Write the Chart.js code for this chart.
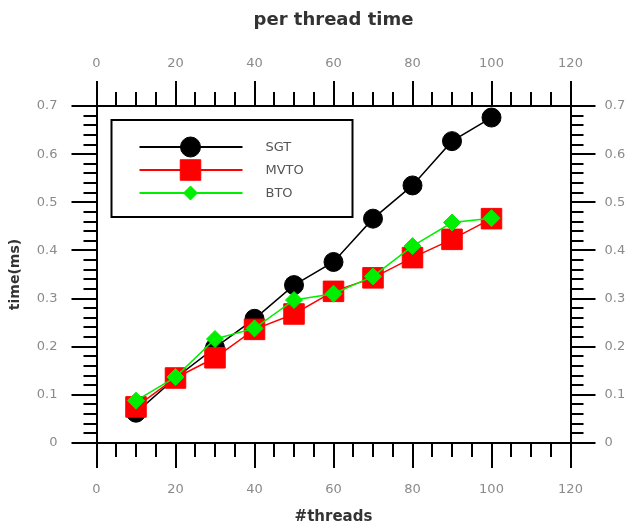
<!DOCTYPE html>
<html>
<head>
<meta charset="utf-8">
<script src="https://cdn.jsdelivr.net/npm/chart.js@4/dist/chart.umd.min.js"></script>
<style>
body { margin: 0; background: #fff; }
#wrap { width: 630px; height: 529px; }
</style>
</head>
<body>
<div id="wrap"><canvas id="myChart"></canvas></div>
<script>
// data
var threads = [10, 20, 30, 40, 50, 60, 70, 80, 90, 100];
var sgt  = [0.063, 0.135, 0.198, 0.258, 0.328, 0.376, 0.466, 0.535, 0.627, 0.676];
var mvto = [0.075, 0.135, 0.177, 0.236, 0.268, 0.315, 0.343, 0.385, 0.423, 0.466];
var bto  = [0.088, 0.137, 0.216, 0.238, 0.297, 0.310, 0.346, 0.409, 0.458, 0.467];
var xTicks = [0, 20, 40, 60, 80, 100, 120];
var yTicks = [0, 0.1, 0.2, 0.3, 0.4, 0.5, 0.6, 0.7];
var yTickLabels = ['0', '0.1', '0.2', '0.3', '0.4', '0.5', '0.6', '0.7'];

function points(xs, ys) {
    var out = [];
    for (var i = 0; i < xs.length; i++) {
        out.push({x: xs[i], y: ys[i]});
    }
    return out;
}

var tickFont = {family: 'DejaVu Sans', size: 13};
var tickColor = '#8a8a8a';

// major ticks only come from the arrays above
function setTicks(list) {
    return function(scale) {
        scale.ticks = list.map(function(v) { return {value: v}; });
    };
}

function axisOpts(pos, list, pad, extra) {
    var o = {
        type: 'linear',
        position: pos,
        min: list[0],
        max: list[list.length - 1],
        afterBuildTicks: setTicks(list),
        ticks: {color: tickColor, font: tickFont, padding: pad, maxRotation: 0, autoSkip: false},
        grid: {drawOnChartArea: false, drawTicks: true, tickLength: 25, color: '#000', lineWidth: 2},
        border: {display: true, color: '#000', width: 2}
    };
    for (var k in extra) o[k] = extra[k];
    return o;
}

// minor tick marks + legend box drawn with the chart's own scales
var extrasPlugin = {
    id: 'extras',
    afterDraw: function(chart) {
        var ctx = chart.ctx;
        var a = chart.chartArea;
        var s = chart.scales;
        ctx.save();
        ctx.strokeStyle = '#000';
        ctx.lineWidth = 2;
        ctx.beginPath();
        for (var v = 5; v < 120; v += 5) {
            if (v % 20 === 0) continue;
            var px = Math.round(s.x.getPixelForValue(v));
            ctx.moveTo(px, a.bottom); ctx.lineTo(px, a.bottom + 14);
            ctx.moveTo(px, a.top); ctx.lineTo(px, a.top - 14);
        }
        for (var j = 1; j < 35; j++) {
            if (j % 5 === 0) continue;
            var py = Math.round(s.y.getPixelForValue(j * 0.02));
            ctx.moveTo(a.left, py); ctx.lineTo(a.left - 13, py);
            ctx.moveTo(a.right, py); ctx.lineTo(a.right + 13, py);
        }
        ctx.stroke();

        // legend
        var bx = a.left + 15, by = a.top + 14, bw = 241, bh = 97;
        ctx.lineWidth = 2;
        ctx.strokeRect(bx, by, bw, bh);
        var legendR = [10, 14.5, 7];
        chart.data.datasets.forEach(function(ds, i) {
            var y = by + 27 + i * 23;
            ctx.strokeStyle = ds.borderColor;
            ctx.lineWidth = 2;
            ctx.beginPath();
            ctx.moveTo(bx + 28, y);
            ctx.lineTo(bx + 131, y);
            ctx.stroke();
            ctx.fillStyle = ds.backgroundColor;
            ctx.lineWidth = 1;
            Chart.helpers.drawPoint(ctx, {pointStyle: ds.pointStyle, radius: legendR[i], rotation: 0, borderWidth: 1}, bx + 79, y);
            ctx.fillStyle = '#555';
            ctx.font = '13px "DejaVu Sans"';
            ctx.textBaseline = 'middle';
            ctx.fillText(ds.label, bx + 154, y + 1);
        });
        ctx.restore();
    }
};

var ctx = document.getElementById('myChart');
new Chart(ctx, {
    type: 'scatter',
    data: {
        datasets: [{
            label: 'SGT',
            data: points(threads, sgt),
            showLine: true,
            borderColor: '#000000',
            backgroundColor: '#000000',
            borderWidth: 1.5,
            pointStyle: 'circle',
            pointRadius: 9.5,
            pointBorderWidth: 1,
            order: 3
        }, {
            label: 'MVTO',
            data: points(threads, mvto),
            showLine: true,
            borderColor: '#ff0000',
            backgroundColor: '#ff0000',
            borderWidth: 1.5,
            pointStyle: 'rect',
            pointRadius: 14.5,
            pointBorderWidth: 1,
            order: 2
        }, {
            label: 'BTO',
            data: points(threads, bto),
            showLine: true,
            borderColor: '#00ee00',
            backgroundColor: '#00ee00',
            borderWidth: 1.5,
            pointStyle: 'rectRot',
            pointRadius: 8.5,
            pointBorderWidth: 1,
            order: 1
        }]
    },
    options: {
        responsive: true,
        maintainAspectRatio: false,
        animation: false,
        layout: {padding: 0},
        plugins: {
            legend: {display: false},
            tooltip: {enabled: false},
            title: {display: false}
        },
        scales: {
            x: axisOpts('bottom', xTicks, 14, {
                title: {display: true, text: '#threads', color: '#333',
                        font: {family: 'DejaVu Sans', size: 15, weight: 'bold'}, padding: {top: 0, bottom: 3}},
                afterFit: function(s) { s.height = 86; }
            }),
            x2: axisOpts('top', xTicks, 10, {
                axis: 'x',
                // chart title sits over the plot area like the original
                title: {display: true, text: 'per thread time', color: '#333',
                        font: {family: 'DejaVu Sans', size: 18, weight: 'bold'}, padding: {top: 10, bottom: 0}},
                afterFit: function(s) { s.height = 106; }
            }),
            y: axisOpts('left', yTicks, 14, {
                ticks: {color: tickColor, font: tickFont, padding: 14, autoSkip: false,
                        callback: function(v, i) { return yTickLabels[i]; }},
                title: {display: true, text: 'time(ms)', color: '#333',
                        font: {family: 'DejaVu Sans', size: 14, weight: 'bold'}, padding: {top: 7, bottom: 0}},
                afterFit: function(s) { s.width = 96.5; }
            }),
            y2: axisOpts('right', yTicks, 9, {
                axis: 'y',
                ticks: {color: tickColor, font: tickFont, padding: 9, autoSkip: false,
                        callback: function(v, i) { return yTickLabels[i]; }},
                afterFit: function(s) { s.width = 59.5; }
            })
        }
    },
    plugins: [extrasPlugin]
});
</script>
</body>
</html>
